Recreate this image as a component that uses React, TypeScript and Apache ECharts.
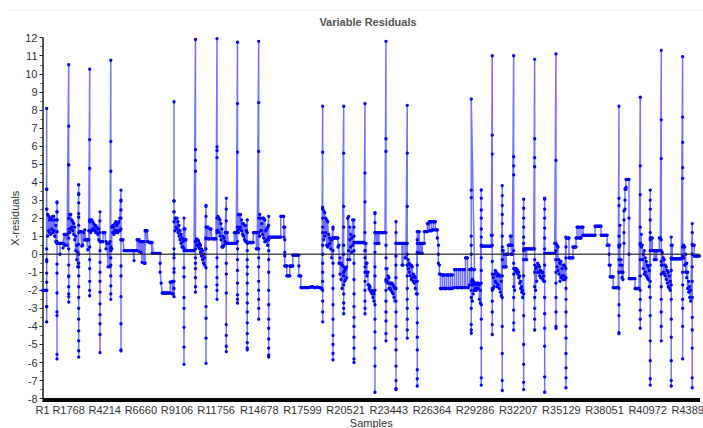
import React, { useEffect, useRef } from "react";
import * as echarts from "echarts";

const titleText = "Variable Residuals";
const xName = "Samples";
const yName = "X-residuals";
const xTickSamples = [1, 1768, 4214, 6660, 9106, 11756, 14678, 17599, 20521, 23443, 26364, 29286, 32207, 35129, 38051, 40972, 43893];
const lastSample = 44516;
const sampleStride = 68;

// An inner list holds all the residuals read at one position.
const stretchStarts = [1, 284, 982, 1774, 2451, 3195, 3893, 4624, 5314, 8903, 9580, 10358, 11069, 11814, 12443, 13202, 13865, 14637, 15314, 18970, 19667, 20391, 21089, 21833, 22510, 23255, 23932, 24697, 25374, 29030, 29707, 30451, 31128, 31900, 32577, 33322, 33999, 34764, 35441, 39029, 40471, 41148, 41893, 42570, 43342, 43991];

const r00 = [-2, -2, -2, -2];
const r01 = [[-2, -2.9, -3.75, -2.9, -2, -1.55, -1.05, -0.4, -0.3, 0.3, 2.5, 3.6, 8.08, 3.6, 2.5], [1, 2.2], [1.3, 2.1], [1.2, 1.9], [1.1, 2], [1.4, 1.9], [1.2, 2.1], [1.3, 2.1], [1, 1.9], [0.7, 1.6]];
const r02 = [[0.7, 1.25, 1.9, 2.35, 2.9, 2.85, 2.35, 1.9, 1.25, 0.6, -0.55, -1.05, -2.15, -3.2, -3.4, -5.55, -5.8, 0.6], 0.6, 0.6, [0.6, 0, 0.6], 0.6, 0.6, [0.6, 0.35, 0.6], 1.1, [1.1, 0.5], 1.1, [1.1, 0.5]];
const r03 = [[10.5, 7.1, 4.95, 4.95, 2, 1.4, 0.9, 0.3, -0.6, -1.2, -1.25, -1.8, -2.2, -2.35, -2.65, 1.2], [1.2, 2.2], [1.4, 2.2], [1.5, 1.9], [1.3, 1.8], [1.1, 1.7], [0.8, 1.5], [0.2, 1], [-0.3, 0.5], [-0.7, 0.1]];
const r04 = [[3.85, 3.35, 3.3, 2.85, 2.25, 2.05, 1.6, 0.55, 0, -0.5, -0.7, -1.2, -1.8, -2.4, -3, -3.6, -4.25, -4.8, -5.35, -5.7, 1.2], 1.25, 1.25, [0.45, 1.25], 0.5, 1.2, [0.8, 1.35], 0.8, 0.8, [0.25, 0.8], [0.8, 1.3]];
const r05 = [[10.25, 6.35, 4.75, 1.9, 1.3, 0.4, -0.3, -0.8, -1.5, -2, -2.3, 1.8], [1.2, 1.9], [1.3, 1.9], [1.4, 1.8], [1.4, 1.7], [1.3, 1.6], [1.2, 1.6], [1.2, 1.5], [1.1, 1.4], [0.8, 1.4]];
const r06 = [[2.35, 1.85, 1.2, 0.7, 0.2, -0.45, -1, -1.5, -2.1, -2.75, -3.35, -3.85, -4.45, -5.45, 0.7], 0.7, 0.7, [0.7, 1.2], 1.2, 1.2, [0.3, 0.7], 0.6, [-0.7, 0.6], 0.6, [-0.7, 0.7]];
const r07 = [[10.75, 6.25, 4.6, 0.4, 0.2, -0.2, -0.6, -1.2, -1.75, -2.2, -2.5, 0.3], [0.3, 1.5], [1.2, 1.6], [1.1, 1.5], [1.3, 1.7], [1.2, 1.8], [1.3, 1.6], [1.2, 1.7], [1.3, 1.8], [1.3, 2]];
const r08 = [[3.55, 3, 2.95, 2.45, 2, 1.4, 0.8, -0.65, -1.2, -2.35, -3.85, -5.3, -5.35, 0.8], 0.8, 0.8, 0.2, 0.2, 0.2, 0.2, 0.2, 0.2, 0.2, 0.2, 0.2, 0.2, [-0.35, 0.2], 0.2, 0.2, [0.2, 0.8], 0.8, [0.15, 0.8], 0.7, [0.1, 0.7], [-0.45, 0.7], 0.7, [-0.5, 0.7], [-0.5, 1.3], 1.3, [0.7, 1.3], 0.7, 0.65, 0.65, 0.65, [0.05, 0.65], 0.05, 0.05, 0.05, 0.05, 0.05, 0.05, 0.05, [0.05, -0.5, -1], -1.6, -2.15, -2.15, -2.15, -2.15, -2.15, -2.15, -2.15, -2.15, [-2.15, -1.55], -1.55, [-1.5, -2.2], [-2.2, -1.5]];
const r09 = [[-1.5, -2.35, -1.9, -1, -0.8, -0.2, 0, 0.3, 2.35, 2.95, 8.45, 2.95, 2.35, 1.8], [1.3, 2], [1.5, 2], [1.4, 2], [1.2, 1.8], [1, 1.6], [0.8, 1.3], [0.6, 1.1], [0.4, 0.9], [0.4, 0.7]];
const r10 = [[2, 1.4, 0.8, 0.3, -0.75, -1.25, -2.4, -3, -4.05, -5.15, -6.1, 0.2], [1.4, 0.8], [0.8, 0.2], 0.2, 0.2, 0.2, 0.2, 0.2, 0.2, 0.2, 0.2];
const r11 = [[11.9, 5.8, 5.2, 4.6, 0.7, 0.3, -0.2, -0.5, -0.8, -1.3, -1.8, -2.1, 0.7], [0.5, 0.85], [0.5, 0.8], [0.4, 0.75], [0.3, 0.6], [0.1, 0.5], [-0.1, 0.3], [-0.3, 0.2], [-0.5, 0], [-0.6, -0.2]];
const r12 = [[2.7, 2.65, 2.1, 1.5, 0.9, 0.3, -0.75, -1.8, -2.9, -3.55, -4.65, -6.05, 0.85], 1.5, [1.5, 0.85], 0.85, [0.85, 1.4], 1.4, 0.85, 0.85, 0.85, 0.85, 0.85];
const r13 = [[11.95, 5.95, 5.75, 5.35, 2, 1.2, -0.2, -0.7, -1.3, -1.7, -2, -2.5, 1.3], [1.3, 2.1], [1.2, 2], [1, 1.9], [0.8, 1.7], [0.4, 1.4], [0.4, 1], [0.5, 0.9], [0.7, 1.2]];
const r14 = [[3.1, 2.5, 1.85, 1.2, 0.6, -0.5, -1.1, -2.15, -3.9, -4.5, -5.1, -5.4, 0.6], [0.6, 1.2], 0.6, 0.6, 0.6, 0.6, 0.6, 0.6, [0.6, 1.2], 1.2, [0.6, 1.2]];
const r15 = [[11.75, 8.35, 5.65, 1.3, 0.7, 0.3, -0.3, -0.9, -1.6, -2.25, -2.5, -2.7, 1.5], [1.2, 2.2], [1.4, 2.2], [1.5, 2.2], [1.3, 1.9], [1.1, 1.7], [1, 1.7], [0.8, 1.6], [0.7, 1.6], [0.7, 1.3]];
const r16 = [[1.9, 1.2, 0.6, 0.2, -0.3, -0.7, -1.1, -1.6, -2.2, -2.7, -3.2, -3.8, -4.4, -4.9, -5.2, -5.3, 0.65], 0.65, 0.65, 0.65, 0.65, 0.65, [0.65, 1.2], 1.2, 1.2, [1.2, 0.3], [0.3, 1.2]];
const r17 = [[11.8, 8.4, 5.7, 2, 1.2, 0.3, -0.2, -0.7, -1.5, -2, -2.5, -3, -3.6, 1.2], [1, 2.2], [1.3, 2], [1.3, 1.7], [1.1, 2], [0.9, 2], [0.7, 1.9], [0.7, 1.3], [0.8, 1.4], [0.5, 1.5]];
const r18 = [[2.1, 1.6, 0.8, 0.2, -0.3, -1, -2, -2.8, -3.6, -4.1, -4.7, -5.2, -5.6, -5.7, 0.95], 0.95, 0.95, 0.95, 0.95, 0.95, 0.95, 0.95, 0.95, 0.95, 0.95, 0.95, [0.95, 2.1], 2.1, 2.1, [2.1, 1.5, 0.95], [1.5, 0.8, 0.1, -0.1, -0.65], -0.65, [-0.65, -1.2], -1.2, -1.2, [-1.2, -0.65], -0.65, -0.65, [-0.65, -0.05], -0.05, -0.05, -0.05, -0.05, -0.05, [-0.05, -0.65, -1.2], -1.2, [-1.2, -1.85], -1.85, -1.85, -1.85, -1.85, -1.85, -1.85, -1.85, -1.85, -1.82, -1.82, -1.8, -1.8, -1.85, -1.85, -1.85, -1.83, -1.83, -1.85, -1.85, -1.9, -1.9];
const r19 = [[8.2, 5.65, 2.6, 2.5, 2, 1.2, 0.5, 0, -0.5, -1, -1.5, -2, -2.6, -3.2, -3.75, 1.5], [0.8, 2.4], [1, 2.3], [1.2, 2], [0.5, 1.9], [0.4, 1.8], [0.5, 1.1], [0.6, 0.9], [0.3, 0.8], [-0.2, 0.8]];
const r20 = [[1.5, 1.4, 0.9, 0.2, -0.5, -1.2, -1.9, -2.8, -3.6, -4.5, -5, -5.5, -5.85, 0.9], 0.9, 0.9, 0.9, 0.9, [0.9, 0.4], [0.5, -0.5], [-0.2, -1.1], [-0.5, -1.4], [-0.6, -1.9]];
const r21 = [[8.2, 5.6, 2.65, 1.5, 0.5, 0, -0.7, -1.2, -1.7, -2.2, -2.7, -3, -3.3, -1], [-0.9, -1.5], [-0.8, -1.4], [-0.7, -1.3], [-0.3, 2], [0.2, 2.1], [-0.3, 0.8, 1.5], [0.4, 1.1], [0.1, 0.9], [1.9, 0.5]];
const r22 = [[1.9, 1.5, 1, 0.2, -0.5, -1.4, -2.2, -2.9, -3.5, -4, -4.6, -5.2, -5.8, -6, 0.65], 0.65, 0.65, 0.65, 0.65, 0.65, 0.65, 0.65, 0.65, 0.65, 0.65];
const r23 = [[8.35, 4.5, 2.9, 1.2, 0.6, 0.2, -0.2, -0.7, -1, -1.5, -2, -2.6, -3, -3.3, 0.2], [0.6, -0.5, -1], [-0.5, -1.2], [-1, -1.7], [-1.7, -1.9], [-1.8, -2], [-2, -2.1], [-2, -2.2], [-2.1, -2.4], [-2.2, -2.6]];
const r24 = [[2.3, 2.25, 1.75, 1.2, 0.6, 0.1, -0.7, -1.2, -2, -2.8, -3.6, -4.3, -5.2, -6.2, -7.65, 1.2], 1.2, [0.6, 1.2], [0.6, 1.2], [0.6, 1.2], 1.2, 1.2, 1.2, 1.2, 1.2, 1.2];
const r25 = [[11.8, 6.4, 5.7, 1.2, 0.5, -0.2, -0.8, -1.4, -2, -2.6, -3.2, -3.7, -4.4, -4.8, -1.5], [-0.8, -1.5], [-1.2, -1.6], [-1.3, -1.9], [-1.6, -1.9], [-1.6, -2], [-1.6, -2.1], [-1.7, -2.2], [-1.8, -2.4], [-1.9, -2.6]];
const r26 = [[1.8, 1.2, 0.6, -0.1, -0.6, -1.3, -1.9, -2.6, -3.2, -4, -4.7, -5.3, -6.2, -7, -7.5, -7.45, 0.6], 0.6, 0.6, 0.6, 0.6, 0.6, [0.6, -0.6], [-0.6, 0.6], 0.6, [0.6, -0.2], [-0.2, 0.6]];
const r27 = [[8.25, 5.6, 2.65, 0.6, 0, -0.6, -1.2, -1.9, -2.5, -3, -3.6, -4.2, -4.65, -0.6], [-0.3, -0.8], [-0.5, -1], [-0.6, -1.2], [-0.6, -1.4], [-0.7, -1.3], [-1.1, -1.5], [-1.2, -1.6], [-1.3, -1.9], [-1.5, -2.2]];
const r28 = [[1.25, 0.8, 0.6, 0.1, -0.6, -1.5, -2.2, -3, -3.8, -4.6, -5.3, -6.4, -6.9, -7.3, 0.05], [0.05, 1.25], [0.05, 1.25, 0.6], [0.05, 0.6], [0.05, 0.6], [0.05, 0.6], 0.6, [0.6, 1.25], 1.25, 1.25, [1.25, 1.7], 1.7, [1.3, 1.8], 1.8, [1.8, 1.3], 1.35, [1.35, 1.8], 1.8, [1.8, 1.35], 1.35, [1.35, 0.9], [0.5, 0, -0.5], [-0.6, -1.1], [-1.1, -1.9], -1.9, [-1.9, -1.15], -1.15, [-1.15, -1.9], -1.9, [-1.9, -1.15], -1.15, [-1.15, -1.9], -1.9, [-1.9, -1.15], -1.15, [-1.15, -1.9], -1.85, [-1.85, -0.85], -0.85, [-0.85, -1.85], -1.85, [-1.85, -0.85], -0.85, [-0.85, -1.85], -1.85, [-1.85, -0.85], -0.85, [-0.85, -1.85], [-1.85, -0.2], -0.2, [-0.2, -1.85], -1.85, [-1.7, -0.85], -0.85, [-0.85, -1.7], -1.7, [-1.7, -0.85], -0.85];
const r29 = [[8.6, 3.55, 3.14, 1, 0.5, 0, -0.8, -1.5, -2.4, -3, -3.9, -4.2, -4.38, -2], [-2.6, -1.4], [-2.2, -1.5], [-1.6, -2], [-1.6, -1.9], [-1.7, -2], [-1.6, -1.9], [-1.6, -1.9], [-1.7, -2.5], [-2, -2.7]];
const r30 = [[3.56, 3.1, 2.45, 2, 1.4, 0.95, 0.5, -0.2, -0.9, -1.6, -2.8, -3.6, -5.2, -6.85, -7.25, 0.45], 0.45, 0.45, 0.45, 0.45, 0.45, 0.45, 0.45, 0.45, 0.45, [0.45, 1.05]];
const r31 = [[11, 6.6, 5.55, 1.05, 0.5, -0.4, -1.1, -1.9, -2.6, -3.2, -3.9, -4.45, -2], [-1.9, -1.3], [-1.8, -1.1], [-0.9, -1.5], [-1, -1.6], [-1.2, -1.8], [-1.1, -1.7], [-1.2, -1.9], [-1.2, -2.1], [-1.5, -2.3]];
const r32 = [[3.8, 3.25, 2.7, 2.2, 1.7, 1, 0.4, -0.3, -1.2, -2.4, -4, -5.5, -7, -7.55, 0.2], [0.2, -0.7], [-0.7, 0], -0.7, [-0.7, 0], 0, [0, 0.5], 0.5, [0.5, 1], [1, 0], [0.5, 0]];
const r33 = [[11, 5.4, 4.9, 4.4, 0.2, -0.5, -1.1, -1.8, -2.4, -3.1, -3.8, -4.2, -0.8], [-2, -0.8], [-0.9, -0.8], [-0.8, -1], [-0.9, -1.1], [-1, -1.3], [-1.2, -1.6], [-1.5, -1.9], [-1.8, -2.1], [-2, -2.4]];
const r34 = [[3.05, 2.55, 2, 1.5, 0.95, 0.6, 0.2, -0.3, -1.2, -2.2, -3.4, -5, -6.1, -7.1, -7.5, 0.3], 0.3, [0.3, -0.3], [-0.3, 0.3], 0.3, 0.3, 0.3, 0.3, 0.3, 0.3, 0.3];
const r35 = [[10.8, 6.4, 5.35, 4.85, 0.3, -0.3, -1, -1.8, -2.4, -3, -3.6, -4.2, -0.6], [-2, -0.8], [-1.5, -0.7], [-0.5, -1], [-0.6, -1], [-0.7, -1.2], [-0.9, -1.3], [-1, -1.3], [-1, -1.4], [-1.2, -1.5]];
const r36 = [[3.1, 3.05, 2.5, 2, 1.45, 0.9, 0.3, -0.6, -1.5, -2.4, -3.3, -4.1, -5.1, -6.8, -7.65, 0.05], 0.05, 0.05, 0.05, 0.05, 0.05, 0.05, 0.05, 0.05, 0.05, [0.05, 0.6]];
const r37 = [[11.1, 5.2, 0.6, 0.2, -0.3, -1, -1.6, -2.4, -3.2, -4, -4.1, -0.3], [0.5, -0.7], [0.4, -0.9], [-0.3, -1.1], [-0.5, -1.5], [-0.4, -1.3], [-0.8, -1.2], [-0.6, -1.4], [-0.6, -1.2], [-0.7, -1.4]];
const r38 = [[0.95, 0.4, -0.2, -0.8, -1.3, -1.9, -2.5, -3.2, -4, -4.65, -5.5, -6.3, -6.85, -7.4, 0.9], 0.9, 0.9, [0.9, -0.2], -0.2, -0.2, -0.2, [-0.2, 0.4], 0.4, 0.4, [0.4, 0.9], [0.9, 1.5], 1.5, [1.5, 0.9], 0.9, [0.9, 1.5], 1.5, [1.5, 1.05], 1.05, 1.05, 1.05, 1.05, 1.05, 1.05, 1.05, 1.05, 1.05, 1.05, 1.05, [1.05, 1.55], 1.55, 1.55, 1.55, 1.55, 1.55, [1.55, 1.05], 1.05, 1.05, 1.05, 1.05, 1.05, [1.05, 0.5], 0.5, [0.5, 0, -0.6], [-0.6, -1.25], -1.25, -1.25, [-1.25, -1.85], -1.85, -1.85, -1.85, -1.85, -1.85];
const r39 = [[8.2, 3.1, 2.7, 1, 0.4, -0.3, -1, -1.9, -2.8, -3.4, -4.4, -4.35, 0.5], [1.6, 0.5, -0.6], [-0.3, -1], [-0.6, -1.3], [-1, -1.4], [0.6, 1.2, 1.9, 2.4], [2.5, 3, 3.6], [3.6, 3.7, 4.15], 4.15, 4.15, [4.15, 2, 0, -1.35], -1.35, -1.35, -1.35, -1.35, -1.35, [-1.35, -1.9], -1.9, -1.9, -1.9, -1.9];
const r40 = [[8.7, 4.9, 3.3, 1.5, 0.6, -0.3, -1.2, -2, -2.5, -3.1, -3.6, -4.1, 0.5], [1.1, 0.4], [0.5, -0.3], [0, -0.8], [0.2, -1.1], [-0.2, -1], [-0.4, -1.2], [-0.6, -1.3], [-0.7, -1.4], [-0.9, -1.8]];
const r41 = [[3.55, 3, 2.5, 1.9, 1.2, 0.8, 0.2, -0.6, -1.5, -2.4, -3.4, -4.8, -5.9, -6.9, -7.25, 0.9], [0.9, 0.2], [0.9, 0.2], 0.2, [0.2, -0.3], [-0.3, 0.2], [0.2, -0.3], 0.2, 0.2, [0.2, 0.9], 0.9];
const r42 = [[11.3, 7.45, 5.3, 0.8, 0.2, -0.4, -1.1, -1.8, -2.5, -3.2, -4, -4.8, -0.6], [-0.6, 0.1], [-0.2, -1], [-0.3, -1.1], [-0.6, -1.2], [-0.7, -1.4], [-0.9, -1.6], [-1, -1.8], [-1.2, -1.9], [-1.5, -2]];
const r43 = [[0.95, 0.5, -0.2, -0.9, -1.7, -2.5, -3.6, -4.6, -5.9, -7, -7.3, -0.25], [0.5, -0.25], -0.25, -0.25, -0.25, -0.25, -0.25, -0.25, -0.25, -0.25, -0.25];
const r44 = [[10.95, 7.6, 6.2, 4.8, 4.2, 0.4, -0.2, -1, -1.7, -2.5, -3, -4, -5.8, -0.1], [0.5, -0.2], [0.4, -0.6], [0, -1], [-0.5, -1.3], [-1, -1.9], [-1.5, -2.1], [-1.8, -2.4], [-2, -2.6]];
const r45 = [[1.7, 1.2, 0.55, 0, -0.7, -1.5, -2.4, -3.5, -4.2, -5.2, -6.85, -7.4, 0.5], 0.5, [0.5, -0.1], -0.1, -0.1, -0.1, -0.1, -0.1];

const stretches: (number | number[])[][] = [r00, r01, r02, r03, r04, r05, r06, r07, r08, r09, r10, r11, r12, r13, r14, r15, r16, r17, r18, r19, r20, r21, r22, r23, r24, r25, r26, r27, r28, r29, r30, r31, r32, r33, r34, r35, r36, r37, r38, r39, r40, r41, r42, r43, r44, r45];

const points: [number, number][] = [];
stretches.forEach((stretch, s) => {
  stretch.forEach((entry, j) => {
    const x = stretchStarts[s] + j * sampleStride;
    (Array.isArray(entry) ? entry : [entry]).forEach((v) => points.push([x, v]));
  });
});

const FONT = "'Liberation Sans', Arial, sans-serif";

export default function App() {
  const ref = useRef<HTMLDivElement>(null);
  useEffect(() => {
    const chart = echarts.init(ref.current!, undefined, { renderer: "svg" });
    chart.setOption({
      animation: false,
      backgroundColor: "#fff",
      title: {
        text: titleText,
        left: 363,
        top: 11,
        textAlign: "center",
        textStyle: { fontFamily: FONT, fontSize: 11, fontWeight: "bold", color: "#555" },
      },
      graphic: [
        { type: "line", shape: { x1: 8, y1: 10, x2: 703, y2: 10 }, style: { stroke: "#f2f2f2", lineWidth: 1 } },
      ],
      grid: { left: 42.5, right: 3, top: 37.7, bottom: 29.4, outerBoundsMode: "none" },
      xAxis: {
        type: "value",
        min: 0,
        max: lastSample,
        offset: 1,
        name: xName,
        nameLocation: "middle",
        nameGap: 18,
        nameMoveOverlap: false,
        nameTextStyle: { fontFamily: FONT, fontSize: 11, color: "#333" },
        splitLine: { show: false },
        axisTick: { show: false },
        axisLine: { show: true, onZero: false, symbol: "none", lineStyle: { color: "#000", width: 4, cap: "butt" } },
        axisLabel: {
          customValues: xTickSamples,
          hideOverlap: false,
          formatter: (v: number) => "R" + v,
          fontFamily: FONT,
          fontSize: 11,
          color: "#333",
          margin: 5,
        },
      },
      yAxis: {
        type: "value",
        min: -8,
        max: 12,
        interval: 1,
        name: yName,
        nameLocation: "middle",
        nameGap: 22,
        nameMoveOverlap: false,
        nameTextStyle: { fontFamily: FONT, fontSize: 11, color: "#333" },
        splitLine: { show: false },
        axisLine: { show: true, onZero: false, lineStyle: { color: "#222", width: 1.5 } },
        axisTick: { show: true, length: 3, lineStyle: { color: "#222" } },
        minorTick: { show: true, splitNumber: 2, length: 2, lineStyle: { color: "#444" } },
        axisLabel: { fontFamily: FONT, fontSize: 11, color: "#333", margin: 5 },
      },
      series: [
        {
          type: "line",
          data: points,
          showSymbol: true,
          showAllSymbol: true,
          symbol: "circle",
          symbolSize: 3.3,
          lineStyle: { color: "rgba(0,0,255,0.55)", width: 1.5 },
          itemStyle: { color: "#0000ff" },
          silent: true,
          z: 2,
        },
        {
          type: "line",
          data: [[0, 0], [lastSample, 0]],
          showSymbol: false,
          lineStyle: { color: "rgba(40,40,40,0.8)", width: 1.5 },
          silent: true,
          z: 3,
        },
      ],
    });
    return () => chart.dispose();
  }, []);
  return <div ref={ref} style={{ position: "absolute", left: 0, top: 0, width: 703, height: 428 }} />;
}
